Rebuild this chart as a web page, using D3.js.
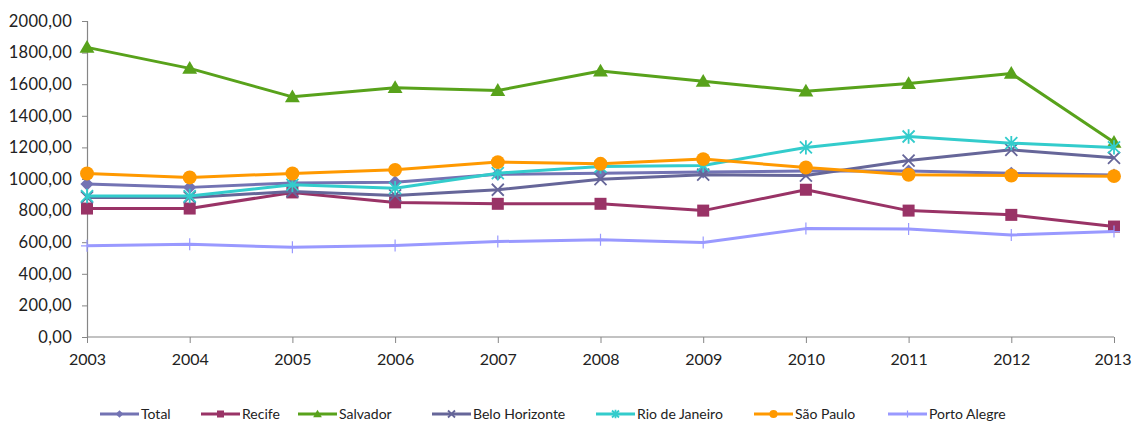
<!DOCTYPE html>
<html>
<head>
<meta charset="utf-8">
<script src="https://cdn.jsdelivr.net/npm/d3@7/dist/d3.min.js"></script>
<style>
  html, body { margin: 0; padding: 0; background: #fff; }
  svg { display: block; font-family: Lato, "Open Sans", sans-serif; }
</style>
</head>
<body>
<svg id="chart" width="1132" height="422"></svg>
<script>
const years = [2003, 2004, 2005, 2006, 2007, 2008, 2009, 2010, 2011, 2012, 2013];
const yTicks = [0, 200, 400, 600, 800, 1000, 1200, 1400, 1600, 1800, 2000];

const total         = [968, 947, 975, 980, 1030, 1036, 1045, 1050, 1050, 1036, 1025];
const recife        = [813, 813, 915, 852, 843, 843, 800, 932, 800, 773, 699];
const salvador      = [1833, 1700, 1520, 1578, 1560, 1683, 1618, 1556, 1604, 1668, 1232];
const beloHorizonte = [883, 883, 921, 896, 932, 999, 1027, 1022, 1117, 1185, 1134];
const rioDeJaneiro  = [892, 892, 963, 942, 1037, 1079, 1086, 1200, 1269, 1227, 1200];
const saoPaulo      = [1035, 1010, 1035, 1058, 1107, 1096, 1126, 1073, 1027, 1022, 1018];
const portoAlegre   = [577, 587, 568, 579, 604, 615, 598, 686, 684, 646, 667];

const series = [
  { name: "Total",          values: total,         color: "#7373B3", marker: "diamond" },
  { name: "Recife",         values: recife,        color: "#993366", marker: "square" },
  { name: "Salvador",       values: salvador,      color: "#58A21B", marker: "triangle" },
  { name: "Belo Horizonte", values: beloHorizonte, color: "#666699", marker: "cross" },
  { name: "Rio de Janeiro", values: rioDeJaneiro,  color: "#33CCCC", marker: "asterisk" },
  { name: "São Paulo",      values: saoPaulo,      color: "#FF9900", marker: "circle" },
  { name: "Porto Alegre",   values: portoAlegre,   color: "#9999FF", marker: "plus" }
];

const svg = d3.select("#chart");
const axisColor = "#868686";
const textColor = "#222";

const x = d3.scalePoint().domain(years).range([87, 1114]);
const y = d3.scaleLinear().domain([0, 2000]).range([337, 21]);

// Y axis
const yAxis = d3.axisLeft(y).tickValues(yTicks).tickSize(5).tickPadding(10)
  .tickFormat(d => d3.format(".2f")(d).replace(".", ","));
const gy = svg.append("g").attr("transform", "translate(87,0)").call(yAxis);
gy.select(".domain").attr("stroke", axisColor).attr("stroke-width", 1.2);
gy.selectAll(".tick line").attr("stroke", axisColor);
gy.selectAll(".tick text").attr("font-size", 16.5).attr("fill", textColor)
  .attr("font-family", "Lato, sans-serif").attr("letter-spacing", "0.3px");

// X axis
const xAxis = d3.axisBottom(x).tickSize(6).tickPadding(11).tickFormat(d => d);
const gx = svg.append("g").attr("transform", "translate(0,337)").call(xAxis);
gx.select(".domain").attr("stroke", axisColor).attr("stroke-width", 1.2)
  .attr("d", "M87,0H1114");
gx.selectAll(".tick line").attr("stroke", axisColor);
gx.selectAll(".tick text").attr("font-size", 16).attr("fill", textColor)
  .attr("font-family", "Lato, sans-serif");
// keep the last year label inside the frame
gx.selectAll(".tick text").filter(d => d === years[years.length - 1])
  .attr("text-anchor", "end").attr("x", 1131 - x(years[years.length - 1]));

// marker drawing
function drawMarker(g, type, color, size) {
  const s = size;
  switch (type) {
    case "diamond":
      g.append("path").attr("d", `M0,${-s*0.55}L${s*0.55},0L0,${s*0.55}L${-s*0.55},0Z`).attr("fill", color);
      break;
    case "square":
      g.append("rect").attr("x", -s/2).attr("y", -s/2).attr("width", s).attr("height", s).attr("fill", color);
      break;
    case "triangle":
      g.append("path").attr("d", `M0,${-s*0.62}L${s*0.62},${s*0.45}L${-s*0.62},${s*0.45}Z`).attr("fill", color);
      break;
    case "cross":
      g.append("path").attr("d", `M${-s/2},${-s/2}L${s/2},${s/2}M${-s/2},${s/2}L${s/2},${-s/2}`)
        .attr("stroke", color).attr("stroke-width", 1.8).attr("fill", "none");
      break;
    case "asterisk":
      g.append("path").attr("d", `M${-s/2},${-s/2}L${s/2},${s/2}M${-s/2},${s/2}L${s/2},${-s/2}M0,${-s*0.6}L0,${s*0.6}`)
        .attr("stroke", color).attr("stroke-width", 1.8).attr("fill", "none");
      break;
    case "circle":
      g.append("circle").attr("r", s*0.58).attr("fill", color);
      break;
    case "plus":
      g.append("path").attr("d", `M${-s/2},0L${s/2},0M0,${-s/2}L0,${s/2}`)
        .attr("stroke", color).attr("stroke-width", 1.2).attr("fill", "none");
      break;
  }
}

const line = d3.line().x((d, i) => x(years[i])).y(d => y(d));

series.forEach(s => {
  const g = svg.append("g").attr("class", "series");
  g.append("path").datum(s.values).attr("d", line)
    .attr("fill", "none").attr("stroke", s.color).attr("stroke-width", 3)
    .attr("stroke-linejoin", "round");
  s.values.forEach((v, i) => {
    const m = g.append("g").attr("transform", `translate(${x(years[i])},${y(v)})`);
    drawMarker(m, s.marker, s.color, 12);
  });
});

// Legend
const legendX = [100, 201, 298, 432, 596, 754, 888];
const legendY = 414;
series.forEach((s, i) => {
  const g = svg.append("g").attr("transform", `translate(${legendX[i]},${legendY})`);
  g.append("line").attr("x1", 0).attr("x2", 39).attr("y1", 0).attr("y2", 0)
    .attr("stroke", s.color).attr("stroke-width", 3);
  const m = g.append("g").attr("transform", "translate(19.5,0)");
  drawMarker(m, s.marker, s.color, 7);
  g.append("text").attr("x", 41).attr("y", 0).attr("dy", "0.35em")
    .attr("font-size", 14).attr("fill", textColor).text(s.name);
});
</script>
</body>
</html>
